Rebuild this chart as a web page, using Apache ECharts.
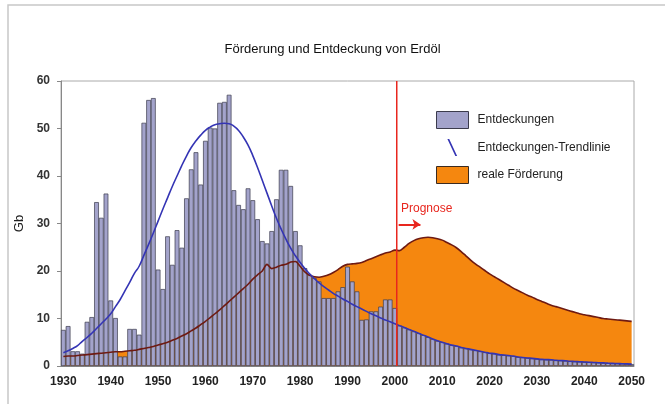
<!DOCTYPE html>
<html><head><meta charset="utf-8">
<script src="https://cdn.jsdelivr.net/npm/echarts@6/dist/echarts.min.js"></script>
<style>html,body{margin:0;padding:0;background:#fff}#c{width:665px;height:404px}</style>
</head><body><div id="c"></div>
<script>
const chartTitle = 'Förderung und Entdeckung von Erdöl';
const yAxisName = 'Gb';
const startYear = 1930, endYear = 2050;
const years = [];
for (let y = startYear; y <= endYear; y++) years.push(String(y));

// Entdeckungen 1930-2000 (Gb)
const discoveriesHist = [
  7.6, 8.4, 3.1, 3.1, 2.6, 9.3, 10.3, 34.5, 31.2, 36.3,
  13.8, 10.1, 2.0, 2.0, 7.8, 7.8, 6.6, 51.2, 56.0, 56.4,
  20.3, 16.2, 27.3, 21.3, 28.6, 24.9, 35.3, 41.4, 45.0, 38.2,
  47.4, 50.2, 50.0, 55.4, 55.6, 57.1, 37.0, 33.9, 33.0, 37.4,
  34.9, 30.9, 26.3, 25.8, 28.4, 35.1, 41.3, 41.3, 37.9, 28.4,
  25.4, 20.6, 19.2, 18.5, 17.8, 14.3, 14.3, 14.3, 15.7, 16.6,
  20.9, 17.8, 15.7, 9.7, 9.8, 11.5, 11.5, 12.5, 14.0, 14.0,
  12.2
];
// Entdeckungen Prognose 2001-2050 (Gb)
const discoveriesForecast = [
  8.5, 8.1, 7.7, 7.3, 6.9, 6.5, 6.1, 5.7, 5.3,
  5.0, 4.7, 4.4, 4.2, 3.9, 3.7, 3.5, 3.3, 3.1, 2.9,
  2.7, 2.6, 2.4, 2.3, 2.2, 2.1, 1.9, 1.8, 1.7, 1.6,
  1.5, 1.4, 1.35, 1.3, 1.2, 1.15, 1.1, 1.0, 0.95, 0.9,
  0.85, 0.8, 0.75, 0.7, 0.65, 0.6, 0.56, 0.52, 0.48, 0.44,
  0.4
];
// Entdeckungen-Trendlinie 1930-2050
const trendline = [
  2.8, 3.2, 3.7, 4.3, 5.2, 6.0, 6.9, 7.9, 8.9, 9.9,
  11.0, 12.5, 14.0, 15.8, 17.6, 19.5, 21.0, 23.3, 25.6, 28.0,
  30.5, 33.0, 35.4, 37.8, 40.0, 42.2, 44.2, 46.0, 47.4, 48.6,
  49.6, 50.3, 50.8, 51.0, 51.1, 51.0, 50.5, 49.6, 48.2, 46.5,
  44.3, 41.8, 39.1, 36.4, 33.7, 31.1, 28.8, 26.7, 24.8, 23.2,
  21.8, 20.5, 19.4, 18.4, 17.5, 16.7, 16.0, 15.3, 14.7, 14.1,
  13.6, 13.0, 12.5, 12.0, 11.5, 11.0, 10.6, 10.1, 9.7, 9.3,
  8.9, 8.5, 8.1, 7.7, 7.3, 6.9, 6.5, 6.1, 5.7, 5.3,
  5.0, 4.7, 4.4, 4.2, 3.9, 3.7, 3.5, 3.3, 3.1, 2.9,
  2.7, 2.6, 2.4, 2.3, 2.2, 2.1, 1.9, 1.8, 1.7, 1.6,
  1.5, 1.4, 1.35, 1.3, 1.2, 1.15, 1.1, 1.0, 0.95, 0.9,
  0.85, 0.8, 0.75, 0.7, 0.65, 0.6, 0.56, 0.52, 0.48, 0.44,
  0.4
];
// reale Förderung 1930-2050
const production = [
  2.0, 2.1, 2.1, 2.2, 2.3, 2.4, 2.5, 2.6, 2.7, 2.8,
  2.9, 3.0, 3.0, 3.1, 3.2, 3.3, 3.5, 3.7, 3.9, 4.1,
  4.4, 4.7, 5.0, 5.4, 5.8, 6.3, 6.8, 7.4, 8.0, 8.7,
  9.4, 10.2, 11.0, 11.8, 12.7, 13.6, 14.5, 15.4, 16.3, 17.2,
  18.3, 19.2, 20.0, 21.4, 20.5, 20.8, 21.2, 21.4, 21.9, 22.0,
  21.0, 19.8, 19.1, 18.8, 18.7, 18.9, 19.2, 19.7, 20.3, 21.0,
  21.4, 21.5, 21.6, 21.8, 22.2, 22.6, 23.0, 23.4, 23.8, 24.0,
  24.4, 24.3, 25.0, 25.8, 26.4, 26.8, 27.0, 27.1, 27.0, 26.8,
  26.5, 26.0, 25.5, 24.9, 24.1, 23.2, 22.3, 21.5, 20.8, 20.1,
  19.4, 18.8, 18.2, 17.6, 17.0, 16.4, 15.9, 15.4, 14.9, 14.5,
  14.0, 13.6, 13.2, 12.8, 12.5, 12.2, 11.9, 11.6, 11.3, 11.0,
  10.8, 10.6, 10.4, 10.2, 10.0, 9.9, 9.8, 9.7, 9.6, 9.5,
  9.4
];
const yMin = 0, yMax = 60, yStep = 10;
const prognoseLabel = 'Prognose';
const prognoseYear = 2000.4;
const arrowFromYear = 2000.8, arrowToYear = 2005.4, arrowLevel = 29.8;

const discoveries = discoveriesHist.concat(discoveriesForecast);

const FONT = '"Liberation Sans", Arial, sans-serif';
const C_BAR = '#a3a3cb', C_BAR_BORDER = '#3b3b4c';
const C_ORANGE = '#f5870f', C_PROD = '#6e1a12', C_TREND = '#3434b4', C_RED = '#e8261e';

const chart = echarts.init(document.getElementById('c'), null, {renderer: 'canvas'});
chart.setOption({
  animation: false,
  backgroundColor: '#fff',
  textStyle: {fontFamily: FONT},
  title: {
    text: chartTitle, left: 'center', top: 38,
    textStyle: {fontSize: 13, fontWeight: 'normal', color: '#111', fontFamily: FONT}
  },
  grid: {left: 61, top: 81, width: 573, height: 285, show: true, borderColor: '#aaa', borderWidth: 1, backgroundColor: 'transparent'},
  legend: {
    orient: 'vertical', left: 436, top: 111, itemWidth: 32, itemHeight: 17, itemGap: 10,
    selectedMode: false, padding: 0,
    textStyle: {fontSize: 12, color: '#222', fontFamily: FONT, padding: [0, 0, 0, 4]},
    data: [
      {name: 'Entdeckungen', icon: 'rect', itemStyle: {color: C_BAR, borderColor: C_BAR_BORDER, borderWidth: 1}},
      {name: 'Entdeckungen-Trendlinie',
       icon: 'path://M0,0 L0.01,0 L0,0.01 Z M3,0 L4.6,0 L11.6,15 L10,15 Z M15,15 L15,14.99 L14.99,15 Z',
       itemStyle: {color: C_TREND}, lineStyle: {width: 0, opacity: 0}},
      {name: 'reale Förderung', icon: 'rect', itemStyle: {color: C_ORANGE, borderColor: '#3a2a20', borderWidth: 1}, lineStyle: {width: 0, opacity: 0}}
    ]
  },
  xAxis: [{
    type: 'category', data: years, boundaryGap: true,
    axisLine: {lineStyle: {color: '#888'}},
    axisTick: {show: false},
    axisLabel: {interval: 9, fontSize: 12, fontWeight: 'bold', color: '#222', margin: 10, fontFamily: FONT},
    splitLine: {show: false}
  }, {
    type: 'value', min: startYear - 0.5, max: endYear + 0.5, show: false, splitLine: {show: false}
  }],
  yAxis: {
    type: 'value', min: yMin, max: yMax, interval: yStep,
    name: yAxisName, nameLocation: 'middle', nameGap: 34,
    nameTextStyle: {fontSize: 13, color: '#222', fontFamily: FONT},
    axisLine: {show: true, lineStyle: {color: '#888'}},
    axisTick: {show: true, length: 4, lineStyle: {color: '#888'}},
    axisLabel: {fontSize: 12, fontWeight: 'bold', color: '#333', margin: 11, fontFamily: FONT},
    splitLine: {show: false}
  },
  series: [
    {name: 'reale Förderung', type: 'line', data: production, symbol: 'none', smooth: 0.3,
     lineStyle: {width: 0}, areaStyle: {color: C_ORANGE, opacity: 1}, itemStyle: {color: C_ORANGE}, z: 1, silent: true},
    {name: 'Entdeckungen', type: 'bar', data: discoveries, barCategoryGap: '0%', barGap: '0%',
     itemStyle: {color: C_BAR, borderColor: C_BAR_BORDER, borderWidth: 0.7}, z: 2, silent: true},
    {name: 'reale Förderung', type: 'line', data: production, symbol: 'none', smooth: 0.3,
     lineStyle: {color: C_PROD, width: 1.6}, itemStyle: {color: C_ORANGE}, z: 3, silent: true},
    {name: 'Entdeckungen-Trendlinie', type: 'line', data: trendline, symbol: 'none', smooth: true,
     lineStyle: {color: C_TREND, width: 1.6}, itemStyle: {color: C_TREND}, z: 4, silent: true},
    {name: 'prognose', type: 'line', xAxisIndex: 1, data: [[prognoseYear, yMin], [prognoseYear, yMax]],
     symbol: 'none', lineStyle: {color: C_RED, width: 1.5}, z: 5, silent: true,
     markLine: {
       silent: true, symbol: ['none', 'arrow'], symbolSize: 8,
       lineStyle: {color: C_RED, width: 2, type: 'solid'}, label: {show: false},
       data: [[{coord: [arrowFromYear, arrowLevel]}, {coord: [arrowToYear, arrowLevel]}]]
     }}
  ],
  graphic: [
    {type: 'rect', silent: true, z: -10, shape: {x: 8, y: 5, width: 700, height: 450},
     style: {fill: 'none', stroke: '#c8c8c8', lineWidth: 1.5}},
    {type: 'text', left: 401, top: 203, silent: true,
     style: {text: prognoseLabel, fill: C_RED, font: '12px "Liberation Sans", Arial, sans-serif'}}
  ]
});
</script></body></html>
